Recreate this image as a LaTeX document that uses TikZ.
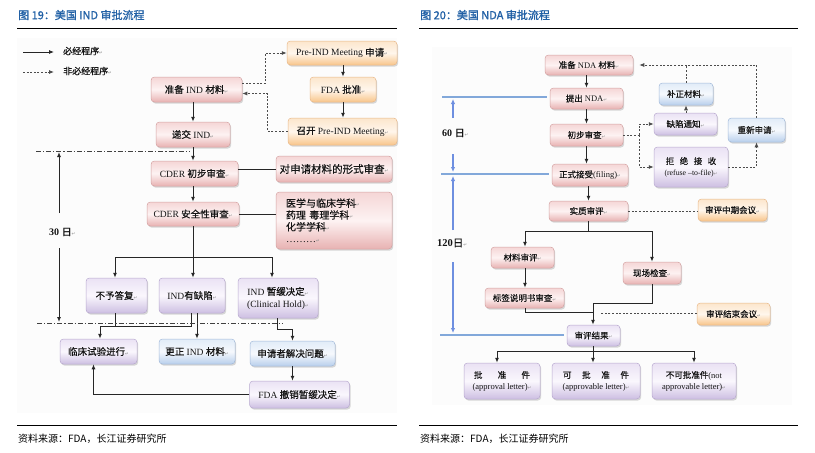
\documentclass[tikz,border=0pt]{standalone}
\usepackage{fontspec}
\setmainfont{Liberation Serif}
\newfontfamily\cjk[FakeBold=0.5]{Noto Sans CJK SC}
\newfontfamily\cjkt[FakeBold=1.2]{Noto Sans CJK SC}
\newfontfamily\cjkr{Noto Sans CJK SC}
\newfontfamily\symf{DejaVu Sans}
\usetikzlibrary{arrows.meta,shadows}
\newcommand\zh[1]{{\cjk #1}}
\newcommand\rt{{\symf\fontsize{4.5}{5}\selectfont\color{black!45}↵}}
\newcommand\lf{\fontsize{9.5}{12}\selectfont}
\newcommand\rf{\fontsize{8.5}{11}\selectfont}
\definecolor{ttl}{RGB}{33,96,165}
\definecolor{bgc}{RGB}{252,252,252}
\definecolor{pkT}{HTML}{F5D6D6}\definecolor{pkM}{HTML}{FDF2F2}\definecolor{pkB}{HTML}{E8B2B2}\definecolor{pkD}{HTML}{D4A3A3}
\definecolor{orT}{HTML}{FCE6CC}\definecolor{orM}{HTML}{FFF6EC}\definecolor{orB}{HTML}{F8C58A}\definecolor{orD}{HTML}{E8B98A}
\definecolor{puT}{HTML}{EAE2F4}\definecolor{puM}{HTML}{FAF7FD}\definecolor{puB}{HTML}{CDBFE2}\definecolor{puD}{HTML}{B8A9CF}
\definecolor{blT}{HTML}{E1ECF8}\definecolor{blM}{HTML}{F6F9FD}\definecolor{blB}{HTML}{B8CFEC}\definecolor{blD}{HTML}{A3BADA}
\definecolor{tl}{RGB}{130,168,218}
\tikzset{
  nbox/.style={rounded corners=3.5pt, line width=0.5pt, inner sep=1pt, align=center, text=black!92,
    drop shadow={shadow xshift=1.2pt, shadow yshift=-1.6pt, opacity=0.3}},
  pinkb/.style={nbox, draw=pkD, top color=pkT, bottom color=pkB, middle color=pkM},
  orb/.style={nbox, draw=orD, top color=orT, bottom color=orB, middle color=orM},
  purb/.style={nbox, draw=puD, top color=puT, bottom color=puB, middle color=puM},
  blb/.style={nbox, draw=blD, top color=blT, bottom color=blB, middle color=blM},
  conn/.style={draw=black!85, line width=1pt},
  arr/.style={conn, -{Latex[length=5pt,width=4pt]}},
  dsh/.style={draw=black!70, line width=0.8pt, dash pattern=on 2pt off 1.6pt},
  darr/.style={dsh, -{Latex[length=5pt,width=4pt]}},
  ddot/.style={draw=black!75, line width=0.8pt, dash pattern=on 5pt off 2pt on 1.2pt off 2pt},
  bline/.style={draw=tl, line width=2pt},
  barr/.style={draw=tl!85!blue, line width=1.4pt, -{Latex[length=5pt,width=4.5pt]}},
  lbl/.style={anchor=west, inner sep=0pt, text=black!92},
}
\begin{document}
\begin{tikzpicture}[x=1pt,y=-1pt]
\useasboundingbox (0,0) rectangle (815,453);
% backgrounds
\fill[bgc] (17,38) rectangle (397,413);
\fill[bgc] (432,47) rectangle (792,405);
% titles, rules, sources
\node[lbl, text=ttl, font=\cjkt\fontsize{11}{13}\selectfont] (t1) at (18,15) {图 19：美国 IND 审批流程};
\node[lbl, text=ttl, font=\cjkt\fontsize{11}{13}\selectfont] (t2) at (420,15) {图 20：美国 NDA 审批流程};
\coordinate (r1a) at (17,28); \coordinate (r1b) at (397,28);
\coordinate (r2a) at (419,28); \coordinate (r2b) at (798,28);
\coordinate (r3a) at (17,425); \coordinate (r3b) at (397,425);
\coordinate (r4a) at (419,425); \coordinate (r4b) at (798,425);
\draw[line width=1pt] (r1a) -- (r1b); \draw[line width=1pt] (r2a) -- (r2b);
\draw[line width=1pt] (r3a) -- (r3b); \draw[line width=1pt] (r4a) -- (r4b);
\node[lbl, text=black, font=\cjkr\fontsize{10}{12}\selectfont] (s1) at (18,439) {资料来源：FDA，长江证券研究所};
\node[lbl, text=black, font=\cjkr\fontsize{10}{12}\selectfont] (s2) at (420,439) {资料来源：FDA，长江证券研究所};

% ================= LEFT: IND =================
% legend
\coordinate (lg1a) at (23,52); \coordinate (lg1b) at (54,52);
\coordinate (lg2a) at (23,72); \coordinate (lg2b) at (54,72);
\draw[arr, line width=0.8pt] (lg1a) -- (lg1b);
\draw[darr] (lg2a) -- (lg2b);
\node[lbl, font=\fontsize{9}{11}\selectfont] (lg1) at (63,51) {\zh{必经程序}\rt};
\node[lbl, font=\fontsize{9}{11}\selectfont] (lg2) at (63,71) {\zh{非必经程序}\rt};

\node[pinkb, minimum width=91, minimum height=25, font=\lf] (pre) at (196.5,89.5) {\zh{准备} IND \zh{材料}\rt};
\node[pinkb, minimum width=74, minimum height=25, font=\lf] (sub) at (193,134.5) {\zh{递交} IND\rt};
\node[orb, minimum width=110, minimum height=24, font=\lf] (preq) at (342,53) {Pre-IND Meeting \zh{申请}\rt};
\node[orb, minimum width=66, minimum height=25, font=\lf] (fda) at (343,89.5) {FDA \zh{批准}\rt};
\node[orb, minimum width=109, minimum height=27, font=\lf] (meet) at (342.5,131.5) {\zh{召开} Pre-IND Meeting\rt};
\node[pinkb, minimum width=87, minimum height=25, font=\lf] (cder1) at (194.5,173.5) {CDER \zh{初步审查}\rt};
\node[pinkb, minimum width=116, minimum height=26, font=\fontsize{10.5}{12}\selectfont] (form) at (334,169) {\zh{对申请材料的形式审查}\rt};
\node[pinkb, minimum width=92, minimum height=24, font=\lf] (cder2) at (193,214) {CDER \zh{安全性审查}\rt};
\node[pinkb, minimum width=116, minimum height=57, text width=96pt, align=left, font=\fontsize{10}{11.8}\selectfont] (disc) at (334,220.5)
  {\zh{医学与临床学科}\rt\\\zh{药理 毒理学科}\rt\\\zh{化学学科}\rt\\………\rt};
\node[purb, minimum width=61, minimum height=35, font=\lf] (noreply) at (116.5,295.5) {\zh{不予答复}\rt};
\node[purb, minimum width=66, minimum height=35, font=\lf] (defect) at (192,295.5) {IND\zh{有缺陷}\rt};
\node[purb, minimum width=80, minimum height=40, font=\lf] (hold) at (278,298) {IND \zh{暂缓决定}\rt\\(Clinical Hold)\rt};
\node[purb, minimum width=77, minimum height=25, font=\lf] (trial) at (98.5,351.5) {\zh{临床试验进行}\rt};
\node[blb, minimum width=76, minimum height=25, font=\lf] (fix) at (197,351.5) {\zh{更正} IND \zh{材料}\rt};
\node[blb, minimum width=85, minimum height=25, font=\lf] (solve) at (292.5,353.5) {\zh{申请者解决问题}\rt};
\node[purb, minimum width=100, minimum height=27, font=\lf] (revoke) at (299.5,394.5) {FDA \zh{撤销暂缓决定}\rt};

% left connectors
\draw[arr] (sub.north |- pre.south) -- (sub.north);
\draw[darr] ([yshift=6pt]pre.east) -- ++(23,0) |- (preq.west);
\draw[darr] (meet.west) -- ++(-20,0) |- ([yshift=-4pt]pre.east);
\draw[arr] (preq.south -| fda.north) -- (fda.north);
\draw[arr] (fda.south) -- (fda.south |- meet.north);
\draw[arr] (sub.south) -- (sub.south |- cder1.north);
\draw[arr] (cder1.south -| cder2.north) -- (cder2.north);
\draw[conn, line width=0.8pt] (cder1.east |- form.west) -- (form.west);
\draw[conn, line width=0.8pt] (cder2.east) -- (cder2.east -| disc.west);
\coordinate (bL) at (115,257); \coordinate (bR) at (272,257);
\draw[conn] (bL) -- (bR);
\draw[arr] (cder2.south) -- (cder2.south |- defect.north);
\draw[arr] (bL) -- (bL |- noreply.north);
\draw[arr] (bR) -- (bR |- hold.north);
\coordinate (j1) at (100,326);
\draw[conn] ([xshift=-1.5pt]noreply.south) -- ++(0,13);
\draw[arr] ([xshift=-1pt]defect.south) |- (j1) -- (j1 |- trial.north);
\draw[arr] ([xshift=5pt]defect.south) -- ([xshift=5pt]defect.south |- fix.north);
\draw[arr] ([xshift=-1pt]hold.south) -- ++(0,11) -| (solve.north);
\draw[arr] (solve.south) -- (solve.south |- revoke.north);
\draw[arr] (revoke.west) -| ([xshift=-5pt]trial.south);
% dash-dot time lines
\coordinate (dd1a) at (36,151); \coordinate (dd1b) at (190,151);
\coordinate (dd2a) at (37,323); \coordinate (dd2b) at (282,323);
\draw[ddot] (dd1a) -- (dd1b);
\draw[ddot] (dd2a) -- (dd2b);
\node[lbl, font=\fontsize{10}{12}\selectfont] (d30) at (49,232) {\textbf{30} \zh{日}\rt};
\coordinate (v30a) at (59,213); \coordinate (v30b) at (59,152);
\coordinate (v30c) at (59,248); \coordinate (v30d) at (59,322);
\draw[arr] (v30a) -- (v30b);
\draw[arr] (v30c) -- (v30d);

% ================= RIGHT: NDA =================
\node[pinkb, minimum width=88, minimum height=20, font=\rf] (prep) at (589,65) {\zh{准备} NDA \zh{材料}\rt};
\node[pinkb, minimum width=73, minimum height=21, font=\rf] (submit) at (586.5,98.5) {\zh{提出} NDA\rt};
\node[pinkb, minimum width=73, minimum height=22, font=\rf] (init) at (586.5,135) {\zh{初步审查}\rt};
\node[blb, minimum width=54, minimum height=22, font=\rf] (supp) at (686,94) {\zh{补正材料}\rt};
\node[purb, minimum width=63, minimum height=22, font=\rf] (notice) at (685.5,124) {\zh{缺陷通知}\rt};
\node[blb, minimum width=57, minimum height=24, font=\rf] (reapply) at (756.5,130) {\zh{重新申请}\rt};
\node[purb, minimum width=74, minimum height=40, font=\rf] (refuse) at (691,167)
  {\zh{拒}\hspace{5.5pt}\zh{绝}\hspace{5.5pt}\zh{接}\hspace{5.5pt}\zh{收}\\{\fontsize{7.8}{10}\selectfont(refuse –to-file)\rt}};
\node[pinkb, minimum width=76, minimum height=22, font=\rf] (filing) at (590,175) {\zh{正式接受}(filing)\rt};
\node[pinkb, minimum width=79, minimum height=20, font=\rf] (review) at (588.5,211) {\zh{实质审评}\rt};
\node[orb, minimum width=69, minimum height=22, font=\rf] (mid) at (732.5,210) {\zh{审评中期会议}\rt};
\node[pinkb, minimum width=63, minimum height=21, font=\rf] (mat) at (522.5,257.5) {\zh{材料审评}\rt};
\node[pinkb, minimum width=58, minimum height=22, font=\rf] (site) at (652,273) {\zh{现场检查}\rt};
\node[pinkb, minimum width=79, minimum height=20, font=\rf] (label) at (524.5,298) {\zh{标签说明书审查}\rt};
\node[purb, minimum width=53, minimum height=21, font=\rf] (result) at (593.5,335.5) {\zh{审评结果}\rt};
\node[orb, minimum width=73, minimum height=22, font=\rf] (endmeet) at (733.5,314) {\zh{审评结束会议}\rt};
\node[purb, minimum width=76, minimum height=36, font=\rf] (appr) at (502,381)
  {\makebox[56pt]{\zh{批}\hfill\zh{准}\hfill\zh{件}}\\(approval letter)\rt};
\node[purb, minimum width=88, minimum height=36, font=\rf] (apprble) at (596,381)
  {\makebox[66pt]{\zh{可}\hfill\zh{批}\hfill\zh{准}\hfill\zh{件}}\\(approvable letter)\rt};
\node[purb, minimum width=84, minimum height=36, font=\rf] (notappr) at (694,381)
  {\zh{不可批准件}(not\\approvable letter)\rt};

% right connectors
\draw[arr] (submit.north |- prep.south) -- (submit.north);
\draw[arr] (submit.south) -- (init.north);
\draw[arr] (init.south) -- (init.south |- filing.north);
\draw[arr] (filing.south -| review.north) -- (review.north);
\draw[dsh] (init.east) -- ++(16,0) coordinate (dj);
\draw[darr] (dj) |- (notice.west);
\draw[darr] (dj) |- (refuse.west);
\draw[darr] (notice.north -| supp.south) -- (supp.south);
\draw[dsh] (supp.north) -- (supp.north |- prep.east);
\draw[darr] (reapply.north) |- ([xshift=6pt]prep.east);
\draw[darr] (refuse.east) -| (reapply.south);
\draw[dsh] (review.east) -- (review.east -| mid.west);
\coordinate (rbL) at (525,231); \coordinate (rbR) at (652,231);
\draw[conn] (review.south) -- (review.south |- rbL);
\draw[conn] (rbL) -- (rbR);
\draw[arr] (rbL) -- (rbL |- mat.north);
\draw[arr] (rbR) -- (rbR |- site.north);
\draw[arr] (rbL |- mat.south) -- (rbL |- label.north);
\coordinate (rj) at (593,303); \coordinate (lj) at (593,312);
\draw[conn] (site.south) |- (rj);
\draw[conn] (rbL |- label.south) |- (lj);
\draw[arr] (rj) -- (rj |- result.north);
\coordinate (ej) at (600,313);
\draw[dsh] (endmeet.west |- ej) -- (ej);
\coordinate (ob) at (593,351); \coordinate (obL) at (497,351); \coordinate (obR) at (694,351);
\draw[conn] (result.south) -- (result.south |- ob);
\draw[conn] (obL) -- (obR);
\draw[arr] (obL) -- (obL |- appr.north);
\draw[arr] (ob) -- (ob |- apprble.north);
\draw[arr] (obR) -- (obR |- notappr.north);

% blue time lines
\coordinate (h1) at (442,97); \coordinate (h2) at (441,174); \coordinate (h3) at (440,335);
\draw[bline] (h1) -- ([xshift=-3pt]h1 -| submit.west);
\draw[bline] (h2) -- ([xshift=-3pt]h2 -| filing.west);
\draw[bline] (h3) -- ([xshift=-3pt]h3 -| result.west);
\node[lbl, font=\fontsize{10}{12}\selectfont] (d60) at (442,133) {\textbf{60} \zh{日}\rt};
\node[lbl, font=\fontsize{10.5}{12}\selectfont] (d120) at (437,243) {\textbf{120}\zh{日}\rt};
\coordinate (v1a) at (453,118); \coordinate (v1b) at (453,99);
\coordinate (v2a) at (453,154); \coordinate (v2b) at (453,172);
\coordinate (v3a) at (453,230); \coordinate (v3b) at (453,176);
\coordinate (v4a) at (453,262); \coordinate (v4b) at (453,333);
\draw[barr] (v1a) -- (v1b);
\draw[barr] (v2a) -- (v2b);
\draw[barr] (v3a) -- (v3b);
\draw[barr] (v4a) -- (v4b);
\end{tikzpicture}
\end{document}
